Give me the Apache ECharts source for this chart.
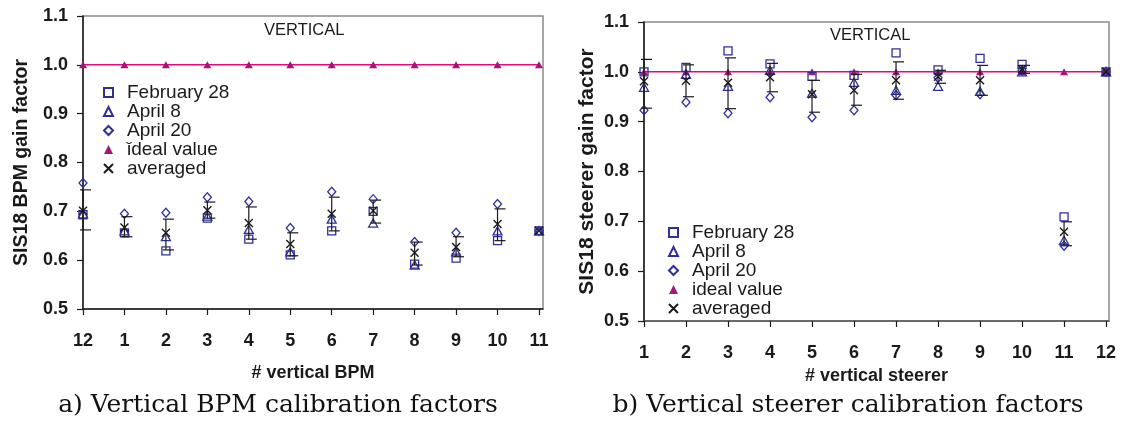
<!DOCTYPE html>
<html><head><meta charset="utf-8">
<script src="https://cdn.jsdelivr.net/npm/echarts@6/dist/echarts.min.js"></script>
<style>html,body{margin:0;padding:0;background:#fff}#c{width:1122px;height:425px}</style>
</head><body><div id="c"></div>
<script>
// ---- data: left chart (vertical BPM) ----
const bpmCats = ['12','1','2','3','4','5','6','7','8','9','10','11'];
const bpmFeb28 = [0.693,0.656,0.619,0.686,0.643,0.611,0.660,0.700,0.592,0.604,0.640,0.660];
const bpmApr8  = [0.695,0.660,0.648,0.690,0.663,0.617,0.684,0.676,0.590,0.617,0.660,0.660];
const bpmApr20 = [0.758,0.695,0.697,0.729,0.720,0.666,0.740,0.725,0.637,0.656,0.715,0.660];
const bpmAvg   = [0.701,0.667,0.656,0.702,0.676,0.633,0.695,0.701,0.615,0.627,0.674,0.660];
const bpmErrLo = [0.662,0.648,0.621,0.686,0.643,0.609,0.660,0.676,0.590,0.607,0.640,null];
const bpmErrHi = [0.744,0.689,0.684,0.719,0.709,0.656,0.729,0.723,0.637,0.648,0.705,null];
const bpmIdeal = [1,1,1,1,1,1,1,1,1,1,1,1];
// ---- data: right chart (vertical steerer) ----
const stCats  = ['1','2','3','4','5','6','7','8','9','10','11','12'];
const stFeb28 = [1.000,1.009,1.042,1.016,0.991,0.993,1.038,1.004,1.027,1.015,0.709,1.000];
const stApr8  = [0.969,0.995,0.971,1.003,0.957,0.979,0.963,0.971,0.961,1.000,0.662,1.000];
const stApr20 = [0.923,0.939,0.917,0.949,0.909,0.923,0.953,0.988,0.955,1.003,0.651,1.000];
const stAvg   = [0.981,0.982,0.978,0.989,0.955,0.963,0.983,0.990,0.983,1.005,0.679,1.000];
const stErrLo = [0.927,0.950,0.926,0.960,0.919,0.933,0.945,0.977,0.953,0.997,0.651,null];
const stErrHi = [1.025,1.014,1.028,1.017,0.983,0.995,1.020,1.003,1.013,1.013,0.699,null];
const stIdeal = [1,1,1,1,1,1,1,1,1,1,1,1];
const yTicks = ['0.5','0.6','0.7','0.8','0.9','1.0','1.1'];

const BLUE = '#2f2f9c', PINK = '#e5087f', PURPLE = '#a2157a', INK = '#1a1a1a';
const SANS = 'Liberation Sans';
const idx = bpmCats.map((_, i) => i);
const pairs = arr => arr.map((v, i) => [i, v]);
const errs = (lo, hi) => lo.map((v, i) => [i, v, hi[i]]);
const XSYM = 'path://M0,0L10,10M10,0L0,10';

function errRender(params, api) {
  const lo = api.value(1), hi = api.value(2), x = api.value(0);
  if (lo == null || isNaN(lo) || isNaN(hi)) return null;
  const a = api.coord([x, hi]), b = api.coord([x, lo]);
  const st = {stroke: INK, lineWidth: 1.2};
  return {type: 'group', children: [
    {type: 'line', shape: {x1: a[0], y1: a[1], x2: b[0], y2: b[1]}, style: st},
    {type: 'line', shape: {x1: a[0] - 3, y1: a[1], x2: a[0] + 8, y2: a[1]}, style: st},
    {type: 'line', shape: {x1: b[0] - 3, y1: b[1], x2: b[0] + 8, y2: b[1]}, style: st}
  ]};
}

function xAx(g, cats, max, name, gap, lineColor) {
  return {
    gridIndex: g, type: 'value', min: 0, max: max,
    axisLine: {show: true, onZero: false, lineStyle: {color: lineColor, width: 1.5}},
    axisTick: {show: true, customValues: idx, length: 6, lineStyle: {color: INK, width: 1.2}},
    axisLabel: {customValues: idx, formatter: v => cats[Math.round(v)], fontFamily: SANS, fontSize: 18,
      fontWeight: 'bold', color: INK, margin: 23},
    splitLine: {show: false},
    name: name, nameLocation: 'middle', nameGap: gap,
    nameTextStyle: {fontFamily: SANS, fontSize: 18, fontWeight: 'bold', color: INK}
  };
}
function yAx(g, name, gap, size) {
  return {
    gridIndex: g, type: 'value', min: 0.5, max: 1.1, interval: 0.1,
    axisLine: {show: true, lineStyle: {color: INK, width: 1.5}},
    axisTick: {show: true, length: 6, lineStyle: {color: INK, width: 1.2}},
    axisLabel: {formatter: v => yTicks[Math.round((v - 0.5) * 10)], fontFamily: SANS, fontSize: 18,
      fontWeight: 'bold', color: INK, margin: 15},
    splitLine: {show: false},
    name: name, nameLocation: 'middle', nameGap: gap, nameRotate: 90,
    nameTextStyle: {fontFamily: SANS, fontSize: size, fontWeight: 'bold', color: INK}
  };
}
function seriesSet(g, feb, apr8, apr20, avg, lo, hi, ideal, idealName) {
  const base = {xAxisIndex: g, yAxisIndex: g};
  const hollow = {color: 'rgba(255,255,255,0)', borderColor: BLUE, borderWidth: 1.3, opacity: 1};
  return [
    Object.assign({type: 'line', name: idealName, data: pairs(ideal), symbol: 'triangle', symbolSize: [8, 7],
      showSymbol: true, lineStyle: {color: PINK, width: 1.5}, itemStyle: {color: PURPLE, opacity: 1}, z: 2}, base),
    Object.assign({type: 'scatter', name: 'February 28', data: pairs(feb), symbol: 'rect', symbolSize: 8,
      itemStyle: hollow, z: 3}, base),
    Object.assign({type: 'scatter', name: 'April 8', data: pairs(apr8), symbol: 'triangle', symbolSize: [9, 8],
      itemStyle: hollow, z: 3}, base),
    Object.assign({type: 'scatter', name: 'April 20', data: pairs(apr20), symbol: 'diamond', symbolSize: [8, 9],
      itemStyle: hollow, z: 3}, base),
    Object.assign({type: 'custom', name: 'err' + g, data: errs(lo, hi), renderItem: errRender,
      encode: {x: 0, y: [1, 2]}, z: 4}, base),
    Object.assign({type: 'scatter', name: 'averaged', data: pairs(avg), symbol: XSYM, symbolSize: 8,
      itemStyle: {color: 'rgba(0,0,0,0)', borderColor: INK, borderWidth: 1.4, opacity: 1}, z: 5}, base)
  ];
}
function legend(left, top, idealName, lh) {
  return {
    orient: 'vertical', left: left, top: top, itemWidth: 9, itemHeight: 9, itemGap: 0,
    selectedMode: false,
    textStyle: {fontFamily: SANS, fontSize: 19, color: INK, lineHeight: lh, padding: [0, 0, 0, 9]},
    data: [{name: 'February 28', icon: 'rect'}, {name: 'April 8', icon: 'triangle'},
           {name: 'April 20', icon: 'diamond'}, {name: idealName, icon: 'triangle'},
           {name: 'averaged', icon: XSYM}]
  };
}

const chart = echarts.init(document.getElementById('c'), null, {renderer: 'canvas'});
chart.setOption({
  animation: false,
  backgroundColor: '#fff',
  grid: [
    {left: 83, top: 16, width: 460, height: 293, show: true, borderColor: '#8a8a8a', borderWidth: 1.5},
    {left: 644, top: 22, width: 465, height: 299, show: true, borderColor: '#8a8a8a', borderWidth: 1.5}
  ],
  xAxis: [xAx(0, bpmCats, 11.097, '# vertical BPM', 55, INK), xAx(1, stCats, 11.07, '# vertical steerer', 42, '#555')],
  yAxis: [yAx(0, 'SIS18 BPM gain factor', 51, 19.5), yAx(1, 'SIS18 steerer gain factor', 46, 21)],
  legend: [legend(98, 78, 'ǐdeal value', 18.7), legend(663, 218, 'ideal value', 18.3)],
  series: [].concat(
    seriesSet(0, bpmFeb28, bpmApr8, bpmApr20, bpmAvg, bpmErrLo, bpmErrHi, bpmIdeal, 'ǐdeal value'),
    seriesSet(1, stFeb28, stApr8, stApr20, stAvg, stErrLo, stErrHi, stIdeal, 'ideal value')
  ),
  graphic: [
    {type: 'text', left: 264, top: 22, style: {text: 'VERTICAL', font: '16.5px "Liberation Sans"', fill: INK}},
    {type: 'text', left: 830, top: 27, style: {text: 'VERTICAL', font: '16.5px "Liberation Sans"', fill: INK}},
    {type: 'text', x: 278, y: 405, style: {text: 'a) Vertical BPM calibration factors', textAlign: 'center',
      textVerticalAlign: 'middle', font: '25px "DejaVu Serif"', fill: '#111'}},
    {type: 'text', x: 848, y: 405, style: {text: 'b) Vertical steerer calibration factors', textAlign: 'center',
      textVerticalAlign: 'middle', font: '25px "DejaVu Serif"', fill: '#111'}}
  ]
});
</script></body></html>
